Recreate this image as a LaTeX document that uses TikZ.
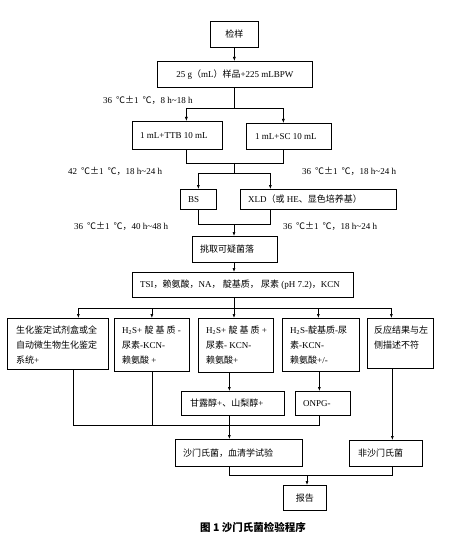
\documentclass[tikz,border=0pt]{standalone}
\usepackage{fontspec}
\setmainfont{Liberation Serif}
\newfontfamily\cjk{Noto Sans CJK SC}
\newcommand\zh[1]{{\cjk #1}}
\newcommand\tmp[3]{#1\hspace{4pt}\zh{℃±}#2\hspace{4pt}\zh{℃，}#3}
\usetikzlibrary{arrows.meta}
\tikzset{
  box/.style={draw, line width=0.7pt, inner sep=0pt},
  txt/.style={inner sep=0pt, font=\fontsize{9}{15}\selectfont, align=left},
  lbl/.style={inner sep=0pt, font=\fontsize{9}{11}\selectfont, anchor=west},
  ln/.style={line width=0.6pt},
  arr/.style={line width=0.6pt, -{Latex[length=4pt,width=3pt]}}
}
\newcommand\bx[5]{%
  \pgfmathsetmacro\bw{#4-#2}\pgfmathsetmacro\bh{#5-#3}%
  \node[box, anchor=north west, minimum width=\bw pt, minimum height=\bh pt] (#1) at (#2,#3) {};}
\begin{document}
\begin{tikzpicture}[x=1pt,y=-1pt]
\useasboundingbox (0,0) rectangle (464,540);
% boxes
\bx{n1}{210}{21}{258}{47}
\bx{n2}{157}{61}{312}{87}
\bx{n3}{132}{121}{222}{149}
\bx{n4}{246}{123}{331}{149}
\bx{n5}{180}{189}{216}{209}
\bx{n6}{240}{189}{396}{209}
\bx{n7}{192}{236}{277}{262}
\bx{n8}{132}{272}{353}{297}
\bx{n9}{7}{318}{108}{369}
\bx{n10}{114}{318}{189}{371}
\bx{n11}{198}{318}{273}{372}
\bx{n12}{282}{318}{359}{371}
\bx{n13}{367}{318}{433}{368}
\bx{n14}{181}{391}{284}{415}
\bx{n15}{295}{391}{350}{415}
\bx{n16}{175}{439}{302}{466}
\bx{n17}{349}{440}{422}{466}
\bx{n18}{283}{485}{326}{510}
% texts
\node[txt] (t1) at (n1.center) {\zh{检样}};
\node[txt] (t2) at (n2.center) {25 g\zh{（}mL\zh{）样品}+225 mLBPW};
\node[txt, anchor=west] (t3) at ([xshift=8pt]n3.west) {1 mL+TTB 10 mL};
\node[txt, anchor=west] (t4) at ([xshift=9pt]n4.west) {1 mL+SC 10 mL};
\node[txt, anchor=west] (t5) at ([xshift=8pt]n5.west) {BS};
\node[txt, anchor=west] (t6) at ([xshift=8pt]n6.west) {XLD\zh{（或} HE\zh{、显色培养基）}};
\node[txt, anchor=west] (t7) at ([xshift=8pt]n7.west) {\zh{挑取可疑菌落}};
\node[txt, anchor=west] (t8) at ([xshift=8pt]n8.west) {TSI\zh{，赖氨酸，}NA\zh{，} \zh{靛基质，} \zh{尿素} (pH 7.2)\zh{，}KCN};
\node[txt, anchor=north west] (t9) at ([xshift=9pt,yshift=-8pt]n9.north west) {\zh{生化鉴定试剂盒或全}\\\zh{自动微生物生化鉴定}\\\zh{系统}+};
\node[txt, anchor=north west] (t10) at ([xshift=8pt,yshift=-8pt]n10.north west) {H\textsubscript{2}S+ \zh{靛 基 质} -\\\zh{尿素}-KCN-\\\zh{赖氨酸} +};
\node[txt, anchor=north west] (t11) at ([xshift=8pt,yshift=-8pt]n11.north west) {H\textsubscript{2}S+ \zh{靛 基 质} +\\\zh{尿素}- KCN-\\\zh{赖氨酸}+};
\node[txt, anchor=north west] (t12) at ([xshift=8pt,yshift=-8pt]n12.north west) {H\textsubscript{2}S-\zh{靛基质}-\zh{尿}\\\zh{素}-KCN-\\\zh{赖氨酸}+/-};
\node[txt, anchor=north west] (t13) at ([xshift=7pt,yshift=-8pt]n13.north west) {\zh{反应结果与左}\\\zh{侧描述不符}};
\node[txt, anchor=west] (t14) at ([xshift=9pt]n14.west) {\zh{甘露醇}+\zh{、山梨醇}+};
\node[txt, anchor=west] (t15) at ([xshift=8pt]n15.west) {ONPG-};
\node[txt, anchor=west] (t16) at ([xshift=8pt]n16.west) {\zh{沙门氏菌，血清学试验}};
\node[txt, anchor=west] (t17) at ([xshift=9pt]n17.west) {\zh{非沙门氏菌}};
\node[txt] (t18) at (n18.center) {\zh{报告}};
% labels
\node[lbl] (l1) at (103,100) {\tmp{36}{1}{8 h\textasciitilde 18 h}};
\node[lbl] (l2) at (68,171) {\tmp{42}{1}{18 h\textasciitilde 24 h}};
\node[lbl] (l3) at (302,171) {\tmp{36}{1}{18 h\textasciitilde 24 h}};
\node[lbl] (l4) at (74,226) {\tmp{36}{1}{40 h\textasciitilde 48 h}};
\node[lbl] (l5) at (283,226) {\tmp{36}{1}{18 h\textasciitilde 24 h}};
\node[inner sep=0pt, font=\cjk\bfseries\fontsize{10.5}{12}\selectfont] (cap) at (253,527) {图 1 沙门氏菌检验程序};
% junctions
\coordinate (j1) at (234,108);
\coordinate (j2) at (234,163);
\coordinate (j3) at (234,173);
\coordinate (j4) at (234,224);
\coordinate (j5) at (234,308);
\coordinate (j6) at (229,425);
\coordinate (j7) at (307,475);
\coordinate (p3) at ([xshift=9pt]n3.north);
\coordinate (q3) at ([xshift=9pt]n3.south);
\coordinate (p4) at ([xshift=-5.5pt]n4.north);
\coordinate (q4) at ([xshift=-5.5pt]n4.south);
\coordinate (p6) at ([xshift=-48pt]n6.north);
\coordinate (q6) at ([xshift=-48pt]n6.south);
\coordinate (p9) at ([xshift=20.5pt]n9.north);
\coordinate (q9) at ([xshift=15.5pt]n9.south);
\coordinate (p12) at ([xshift=-2.5pt]n12.north);
\coordinate (q12) at ([xshift=-1.5pt]n12.south);
\coordinate (p13) at ([xshift=-9pt]n13.north);
\coordinate (q13) at ([xshift=-8pt]n13.south);
\coordinate (q11) at ([xshift=-6.5pt]n11.south);
\coordinate (q14) at ([xshift=-3.5pt]n14.south);
\coordinate (q15) at ([xshift=-3.5pt]n15.south);
\coordinate (q16) at ([xshift=-9.5pt]n16.south);
\coordinate (q17) at ([xshift=6.5pt]n17.south);
% connectors
\draw[arr] (n1.south) -- (n1.south |- n2.north);
\draw[ln] (j1 |- n2.south) -- (j1);
\draw[arr] (j1) -| (p3);
\draw[arr] (j1) -| (p4);
\draw[ln] (q3) |- (j2);
\draw[ln] (q4) |- (j2);
\draw[ln] (j2) -- (j3);
\draw[arr] (j3) -| (n5.north);
\draw[arr] (j3) -| (p6);
\draw[ln] (n5.south) |- (j4);
\draw[ln] (q6) |- (j4);
\draw[arr] (j4) -- (j4 |- n7.north);
\draw[arr] (j4 |- n7.south) -- (j4 |- n8.north);
\draw[ln] (j5 |- n8.south) -- (j5);
\draw[arr] (j5) -| (p9);
\draw[arr] (j5) -| (n10.north);
\draw[arr] (j5) -- (j5 |- n11.north);
\draw[arr] (j5) -| (p12);
\draw[arr] (j5) -| (p13);
\draw[ln] (q9) |- (j6);
\draw[ln] (n10.south) -- (n10.south |- j6);
\draw[arr] (q11) -- (q11 |- n14.north);
\draw[arr] (q12) -- (q12 |- n15.north);
\draw[ln] (q15) |- (j6);
\draw[arr] (q14) -- (q14 |- n16.north);
\draw[arr] (q13) -- (q13 |- n17.north);
\draw[ln] (q16) |- (j7);
\draw[ln] (q17) |- (j7);
\draw[arr] (j7) -- (j7 |- n18.north);
\end{tikzpicture}
\end{document}
